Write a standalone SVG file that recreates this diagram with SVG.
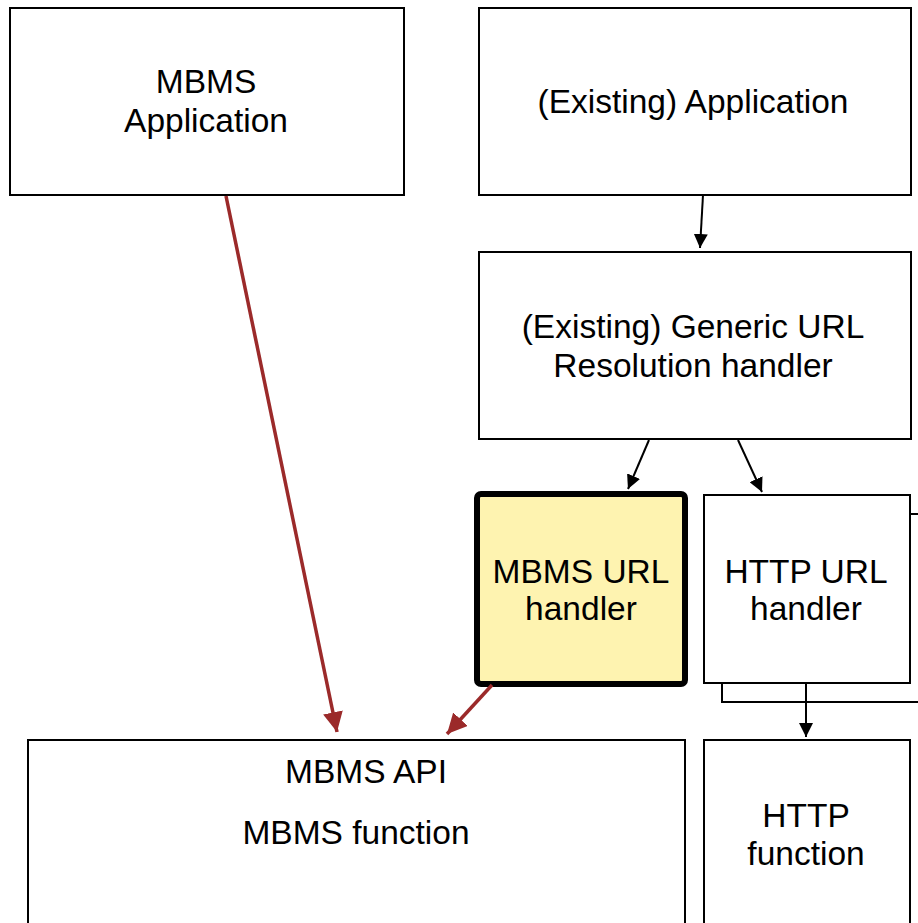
<svg xmlns="http://www.w3.org/2000/svg" width="918" height="923" viewBox="0 0 918 923">
<defs>
<style>
.box{fill:#fff;stroke:#000;stroke-width:2}
.t{font-family:"Liberation Sans",Arial,sans-serif;font-size:33.5px;fill:#000;text-anchor:middle}
.c{stroke:#000;stroke-width:2;fill:none}
.r{stroke:#9B2A2A;stroke-width:3.5;fill:none}
</style>
<marker id="ab" viewBox="0 0 10 10" refX="10" refY="5" markerWidth="14" markerHeight="14" markerUnits="userSpaceOnUse" orient="auto"><path d="M0,0 L10,5 L0,10 z" fill="#000"/></marker>
<marker id="ar" viewBox="0 0 10 10" refX="10" refY="5" markerWidth="20" markerHeight="20" markerUnits="userSpaceOnUse" orient="auto"><path d="M0,0 L10,5 L0,10 z" fill="#9B2A2A"/></marker>
</defs>
<rect width="918" height="923" fill="#fff"/>
<g id="mbms-app"><rect class="box" x="10" y="8" width="394" height="187"/><text class="t" x="206" y="93">MBMS</text><text class="t" x="206" y="132">Application</text></g>
<g id="existing-app"><rect class="box" x="479" y="8" width="432" height="187"/><text class="t" x="693" y="113">(Existing) Application</text></g>
<g id="generic-url"><rect class="box" x="479" y="252" width="432" height="187"/><text class="t" x="693" y="338">(Existing) Generic URL</text><text class="t" x="693" y="377">Resolution handler</text></g>
<g id="http-url-back"><rect class="box" x="722" y="514" width="210" height="188"/></g>
<g id="http-url"><rect class="box" x="704" y="495" width="206" height="188"/><text class="t" x="806" y="583">HTTP URL</text><text class="t" x="806" y="620">handler</text></g>
<g id="mbms-url"><rect x="477" y="494" width="208" height="190" rx="4" fill="#FEF3B0" stroke="#000" stroke-width="6"/><text class="t" x="581" y="583">MBMS URL</text><text class="t" x="581" y="620">handler</text></g>
<g id="mbms-function"><rect class="box" x="28" y="740" width="657" height="200"/><text class="t" x="366" y="783">MBMS API</text><text class="t" x="356" y="844">MBMS function</text></g>
<g id="http-function"><rect class="box" x="704" y="740" width="206" height="200"/><text class="t" x="806" y="827">HTTP</text><text class="t" x="806" y="865">function</text></g>
<g id="connectors">
<line class="c" x1="703" y1="195" x2="700" y2="248" marker-end="url(#ab)"/>
<line class="c" x1="649" y1="440" x2="628" y2="489" marker-end="url(#ab)"/>
<line class="c" x1="738" y1="440" x2="762" y2="492" marker-end="url(#ab)"/>
<line class="c" x1="806" y1="684" x2="806" y2="737" marker-end="url(#ab)"/>
<line class="r" x1="226" y1="196" x2="337" y2="732" marker-end="url(#ar)"/>
<line class="r" x1="492" y1="685" x2="447" y2="734" marker-end="url(#ar)"/>
</g>
</svg>
